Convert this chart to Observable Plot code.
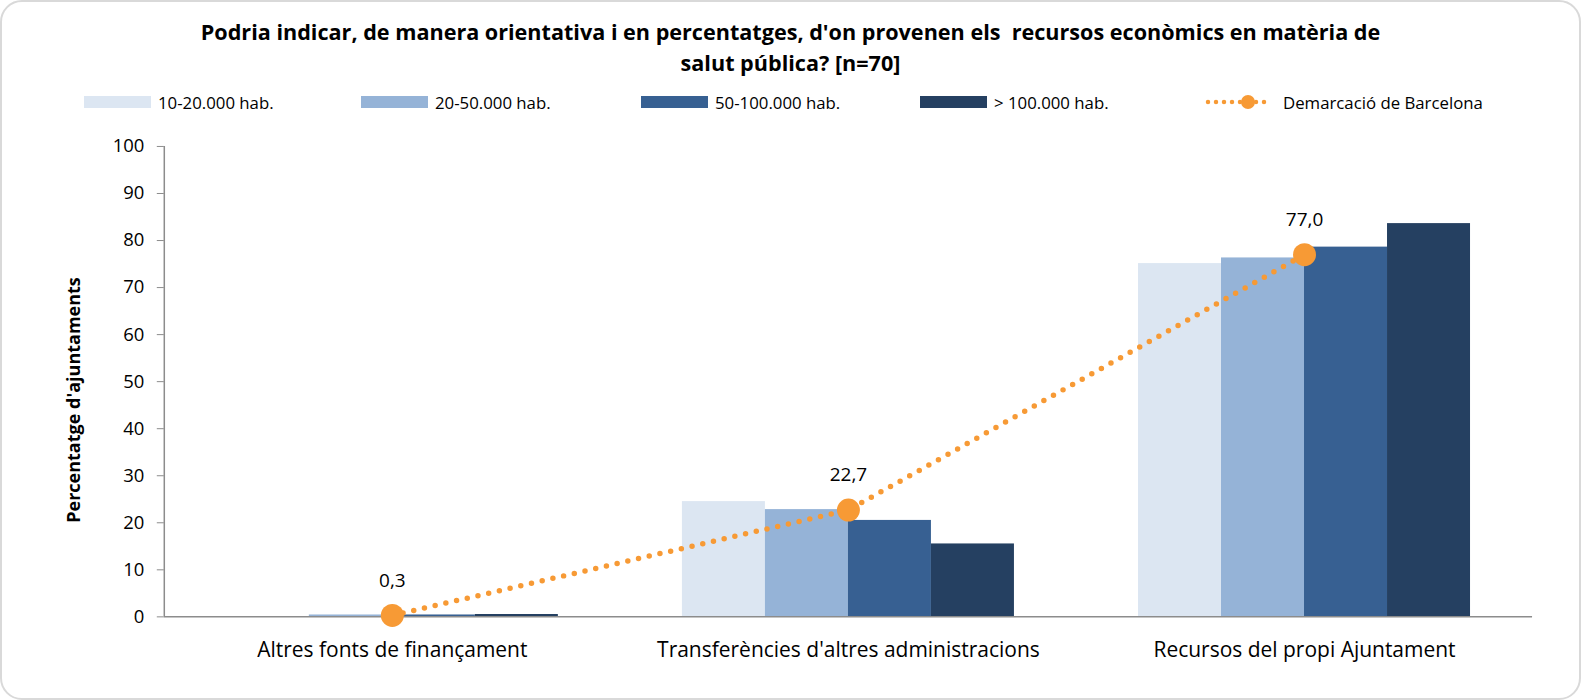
<!DOCTYPE html>
<html><head><meta charset="utf-8">
<script src="https://cdn.jsdelivr.net/npm/d3@7"></script>
<script src="https://cdn.jsdelivr.net/npm/@observablehq/plot@0.6"></script>
<style>
body{margin:0;background:#fff;}
#wrap{position:relative;width:1581px;height:700px;box-sizing:border-box;border:2px solid #d9d9d9;border-radius:22px;overflow:hidden;font-family:"Open Sans",sans-serif;color:#000;}
#title{position:absolute;left:0;right:0;top:14px;text-align:center;font-weight:bold;font-size:21.6px;line-height:31px;}
.leg{position:absolute;top:90px;font-size:16.8px;display:flex;align-items:center;height:20px;white-space:nowrap;}
.sw{width:67px;height:12px;margin-right:7px;}
#chart{position:absolute;left:-2px;top:108px;}
#chart svg{font-family:"Open Sans",sans-serif;}
#ylabel{position:absolute;left:71px;top:398px;transform:translate(-50%,-50%) rotate(-90deg);font-weight:bold;font-size:18px;white-space:nowrap;}
</style></head>
<body>
<div id="wrap">
  <div id="title">Podria indicar, de manera orientativa i en percentatges, d'on provenen els&nbsp; recursos econòmics en matèria de<br>salut pública? [n=70]</div>
  <div id="legend"></div>
  <div id="chart"></div>
  <div id="ylabel"></div>
</div>
<script>
const categories = ["Altres fonts de finançament", "Transferències d'altres administracions", "Recursos del propi Ajuntament"];
const series = ["10-20.000 hab.", "20-50.000 hab.", "50-100.000 hab.", "> 100.000 hab."];
const seriesColors = ["#DCE6F2", "#95B3D7", "#376092", "#254061"];
const v10_20 = [0, 24.5, 75.1];
const v20_50 = [0.4, 22.8, 76.3];
const v50_100 = [0.4, 20.5, 78.6];
const v100plus = [0.5, 15.5, 83.6];
const demarcacioName = "Demarcació de Barcelona";
const demarcacio = [0.3, 22.7, 77.0];
const demarcacioLabels = ["0,3", "22,7", "77,0"];
const yTicks = [0, 10, 20, 30, 40, 50, 60, 70, 80, 90, 100];
const yLabel = "Percentatge d'ajuntaments";
const orange = "#F79A35";

const seriesValues = [v10_20, v20_50, v50_100, v100plus];
const groupWidth = 0.728;
const barW = groupWidth / series.length;
const bars = [];
categories.forEach((c, i) => {
  seriesValues.forEach((vals, j) => {
    const x1 = i - groupWidth / 2 + j * barW;
    bars.push({category: c, series: series[j], value: vals[i], x1, x2: x1 + barW});
  });
});
const line = demarcacio.map((v, i) => ({i, value: v, label: demarcacioLabels[i]}));

document.getElementById("ylabel").textContent = yLabel;

// legend
const legend = document.getElementById("legend");
const legX = [82, 359, 639, 918];
series.forEach((s, j) => {
  const d = document.createElement("div");
  d.className = "leg";
  d.style.left = legX[j] + "px";
  d.innerHTML = `<div class="sw" style="background:${seriesColors[j]}"></div><span>${s}</span>`;
  legend.appendChild(d);
});
{
  const d = document.createElement("div");
  d.className = "leg";
  d.style.left = "1202px";
  d.innerHTML = `<svg width="68" height="20" style="margin-right:11px"><line x1="4" y1="10" x2="66" y2="10" stroke="${orange}" stroke-width="4.5" stroke-linecap="round" stroke-dasharray="0 8"></line><circle cx="44" cy="10" r="7" fill="${orange}"></circle></svg><span>${demarcacioName}</span>`;
  legend.appendChild(d);
}

const chart = Plot.plot({
  width: 1581,
  height: 590,
  marginTop: 36,
  marginBottom: 83,
  marginLeft: 164,
  marginRight: 47,
  x: {domain: [-0.5, 2.5]},
  y: {domain: [0, 100]},
  marks: [
    Plot.rectY(bars, {x1: "x1", x2: "x2", y1: 0, y2: "value", fill: d => seriesColors[series.indexOf(d.series)]}),
    Plot.ruleY([0], {stroke: "#8c8c8c", strokeWidth: 1.5}),
    Plot.ruleX([-0.5], {y1: 0, y2: 100, stroke: "#8c8c8c", strokeWidth: 1.5}),
    Plot.axisY(yTicks, {tickSize: 7, tickPadding: 13, stroke: "#8c8c8c", fill: "#000", fontSize: 18.5, label: null}),
    Plot.axisX([0, 1, 2], {tickFormat: i => categories[i], tickSize: 0, tickPadding: 25, fontSize: 21, fill: "#000", label: null}),
    Plot.line(line, {x: "i", y: "value", stroke: orange, strokeWidth: 5.5, strokeDasharray: "0 11", strokeLinecap: "round"}),
    Plot.dot(line, {x: "i", y: "value", r: 11.5, fill: orange, stroke: "none"}),
    Plot.text(line, {x: "i", y: "value", text: "label", dy: -35, fontSize: 19, fill: "#000"})
  ]
});
document.getElementById("chart").appendChild(chart);
</script>
</body></html>
